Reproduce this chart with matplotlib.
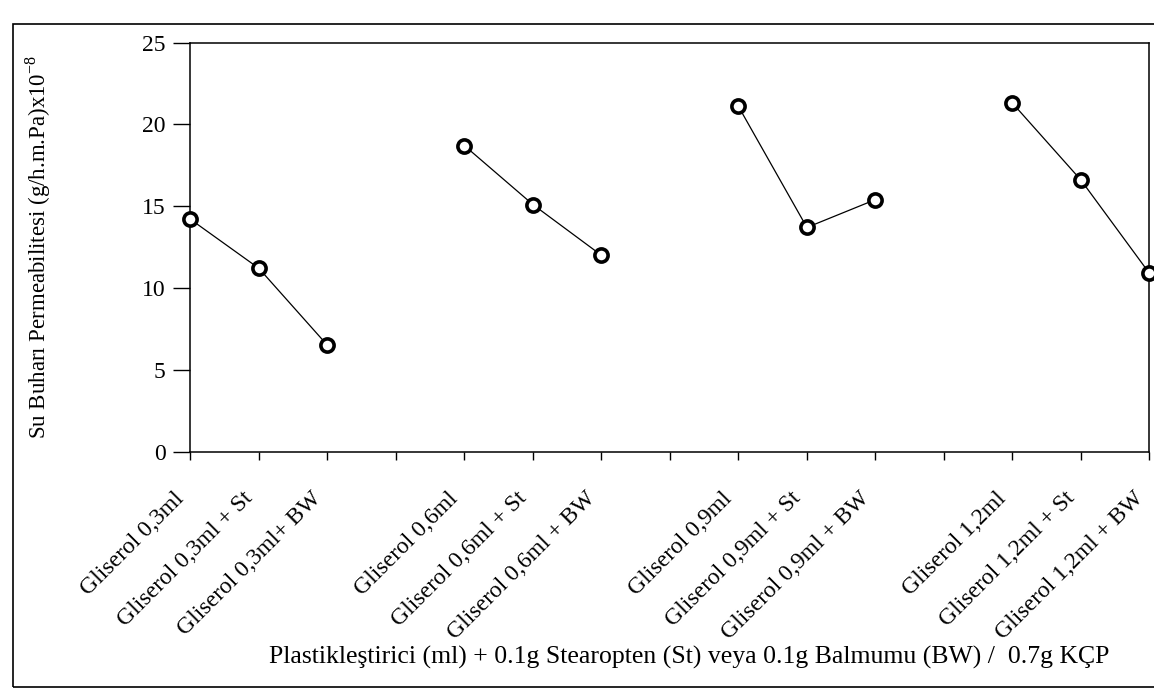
import numpy as np
import matplotlib
matplotlib.use("Agg")
import matplotlib.pyplot as plt
from matplotlib.patches import Rectangle
from matplotlib.transforms import ScaledTranslation

# ---- data ----
categories = [
    "Gliserol 0,3ml", "Gliserol 0,3ml + St", "Gliserol 0,3ml+ BW", "",
    "Gliserol 0,6ml", "Gliserol 0,6ml + St", "Gliserol 0,6ml + BW", "",
    "Gliserol 0,9ml", "Gliserol 0,9ml + St", "Gliserol 0,9ml + BW", "",
    "Gliserol 1,2ml", "Gliserol 1,2ml + St", "Gliserol 1,2ml + BW",
]
values = [
    14.2, 11.2, 6.5, None,
    18.7, 15.1, 12.0, None,
    21.1, 13.7, 15.4, None,
    21.3, 16.6, 10.9,
]
yticks = [0, 5, 10, 15, 20, 25]
ylabel = "Su Buharı Permeabilitesi (g/h.m.Pa)x10$^{-8}$"
xlabel = "Plastikleştirici (ml) + 0.1g Stearopten (St) veya 0.1g Balmumu (BW) /  0.7g KÇP"

plt.rcParams["font.family"] = ["Liberation Serif", "DejaVu Serif"]
plt.rcParams["mathtext.fontset"] = "custom"
plt.rcParams["mathtext.rm"] = "Liberation Serif"

fig = plt.figure(figsize=(11.54, 6.97), dpi=100)
ax = fig.add_axes([0.165, 0.352, 0.831, 0.587])

x = np.arange(len(categories))
y = np.array([np.nan if v is None else v for v in values], dtype=float)
ax.plot(x, y, color="black", lw=0.9, marker="o", markersize=9.5,
        markerfacecolor="white", markeredgecolor="black", markeredgewidth=2.6,
        clip_on=False, zorder=3)

ax.set_xlim(0, len(categories) - 1)
ax.set_ylim(0, 25)
ax.set_yticks(yticks)
ax.set_xticks(x)
ax.set_xticklabels(categories, rotation=45, ha="right", rotation_mode="anchor",
                   fontsize=17)
ax.tick_params(axis="x", direction="out", length=6, width=1, pad=20)
ax.tick_params(axis="y", direction="out", length=12, width=1, pad=6, labelsize=17)
for s in ax.spines.values():
    s.set_linewidth(1.1)

offset = ScaledTranslation(-12 / 72, 0, fig.dpi_scale_trans)
for lab in ax.get_xticklabels():
    lab.set_transform(lab.get_transform() + offset)

ax.set_ylabel(ylabel, fontsize=16.5)
ax.yaxis.set_label_coords(-0.143, 0.5)
fig.text(0.597, 0.057, xlabel, ha="center", va="center", fontsize=18.5)

fig.patches.append(Rectangle((0.011, 0.015), 1.1, 0.95, transform=fig.transFigure,
                             fill=False, edgecolor="black", lw=1.2))

fig.savefig("out.png", dpi=100)
